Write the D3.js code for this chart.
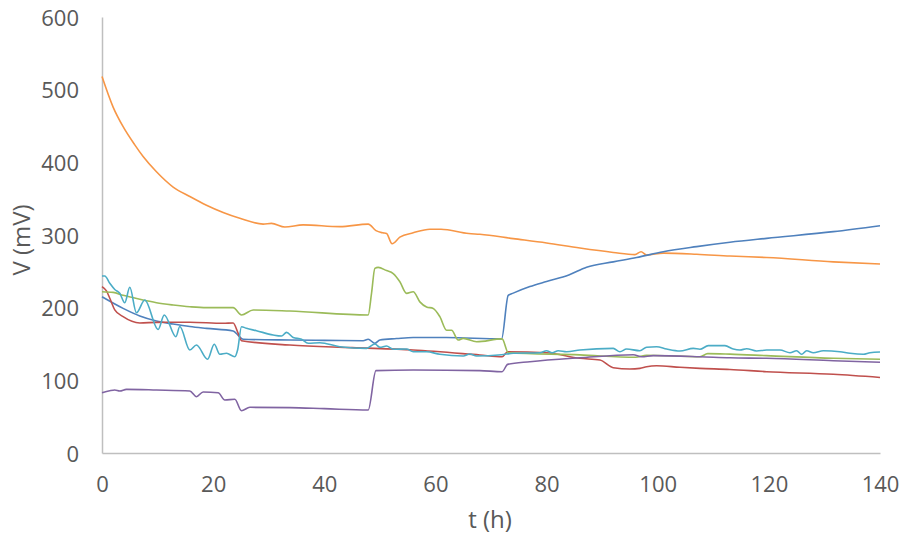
<!DOCTYPE html>
<html><head><meta charset="utf-8">
<script src="https://cdn.jsdelivr.net/npm/d3@7/dist/d3.min.js"></script>
<style>body{margin:0;background:#fff}svg{display:block}text{font-family:"Open Sans",sans-serif;fill:#595959}</style>
</head><body>
<svg id="c" width="900" height="537"></svg>
<script>
const xTicks = [0,20,40,60,80,100,120,140];
const yTicks = [0,100,200,300,400,500,600];
const xLabel = "t (h)";
const yLabel = "V (mV)";

const orange = [[0,518],[2,476],[3.8,449],[5.9,424],[7.4,408],[9.8,387],[12.8,366],[15.8,353],[18.8,341],[21.8,331],[24.8,323],[29,315],[30.5,316],[32.9,311],[36.2,314],[42.8,311.5],[47.9,315],[49.3,306],[50.5,303],[51.2,302],[52.2,288],[53.6,297],[56,303],[59,308],[61,308],[66,302],[68,301],[74,295],[80,289],[86,282],[92,276],[95.9,273],[97,277],[98,272.5],[101,275],[107,273.5],[113,271],[119.6,269],[131.6,263],[140,260]];
const blue = [[0,215],[3.8,199],[6.8,188.5],[9.8,181.6],[12.8,177.5],[15.8,174],[18.8,171.5],[23.6,168],[24.5,162],[25.4,156.5],[33.8,155.5],[40,155],[47,154.5],[47.9,156.5],[49.1,151],[50,155.5],[53,157.5],[56,159],[62,159],[71.9,157],[73.1,217],[74,220],[77,229],[80,236],[84,245],[87.2,255.6],[92,263],[96.2,269],[101,277],[107,284],[113,290],[119.6,295.4],[131.6,304.6],[140,312.8]];
const red = [[0,229],[0.8,223],[1.4,213],[2.3,197],[3.8,187.6],[6.8,179],[9.8,179.8],[15.8,180],[21.8,178.5],[23.6,179],[24.5,164.7],[25.1,154.5],[33.8,148.6],[45,145],[56,141.7],[68,134.9],[72,132.5],[73,139.4],[80,138],[86,130.3],[89.6,128],[92,117.4],[95,115.6],[96.8,116.5],[98,118.8],[99.8,120],[104,117.9],[107.6,116.5],[113,115],[119.6,111.9],[131.6,108.3],[140,104]];
const green = [[0,222],[2,221],[3.8,217],[6.8,211.5],[9.8,206.8],[12.8,203.7],[15.8,201.3],[18.8,200],[23.6,200],[25.1,190],[27.2,196.8],[33.8,195.4],[47.9,190],[48.5,219.7],[49.1,254],[49.7,255.5],[51.2,251],[52.4,247],[53.6,235.7],[54.8,219.7],[56,222],[57.2,208],[58.4,201],[59.6,199],[60.8,187.6],[62,169],[62.9,169],[64.1,155.5],[65,157.8],[67.4,153],[72,157],[73.1,138],[86,135],[96,131.7],[98,134.5],[107.6,132.5],[109,136.7],[113,136],[119.6,134],[131.6,130.3],[140,129]];
const purple = [[0,83],[1.4,85.7],[2.3,86.7],[3.2,85.3],[4.4,87.6],[9.8,86.7],[15.8,85.3],[17,77.5],[18.2,84],[20.9,83],[22.1,73],[23.9,73.9],[25.1,58.2],[26.6,62.9],[33.8,62.4],[40,61],[47.9,59.2],[49.3,113.3],[56,114.2],[68,113.3],[72,111.9],[73,122],[77,125.6],[86,131],[95.6,135.3],[97.1,132.5],[99.2,134],[107.6,132.5],[113,131],[119.6,130.3],[131.6,127],[140,124.8]];
const cyan = [[0,243.6],[0.5,243.6],[1.4,233.5],[2.3,225],[3.2,219.7],[4.1,206.8],[5,228],[6.2,193],[7.7,210.5],[10.1,170],[11.2,190],[13.3,160],[14,174],[15.8,141.7],[17,148.6],[19,129],[20.2,149.6],[21.2,135.8],[22.4,137.2],[23.9,132.5],[24.4,141.7],[25.1,173.8],[26,171.6],[27.8,168.3],[30.8,162.4],[32.3,161],[33.2,166],[34.4,159],[35.9,156.5],[37.1,151],[39.2,151.8],[42.8,146.3],[47.6,144],[49.1,150],[50,145.5],[51.2,147.2],[52.4,142.7],[54.8,143.1],[56,139.4],[58.4,139.4],[60.8,135.8],[65,133.5],[66.2,136.2],[67.4,133.5],[71.9,135.3],[74,137.2],[78.8,138],[80,140.8],[81,138],[82.1,140.8],[83.6,139.4],[86,141.7],[92,144],[93.2,139.4],[94.4,143.1],[96.8,140.8],[98,145.5],[99.8,146.3],[101.6,143.1],[104,140.4],[106.4,144],[107.6,142.7],[109.1,147.7],[112.1,147.7],[113.6,143],[114.8,141.7],[116,143.5],[117.8,140.4],[119.6,141.7],[122,141.7],[123.8,138],[125,140.8],[125.9,135.8],[126.8,140.8],[128,138],[129.8,140.8],[132.8,139.4],[134.6,137.2],[137,135.8],[138.2,138],[140,139]];

const series = [
  {name:"orange", color:"#F79646", data:orange},
  {name:"blue", color:"#4F81BD", data:blue},
  {name:"red", color:"#C0504D", data:red},
  {name:"green", color:"#9BBB59", data:green},
  {name:"purple", color:"#8064A2", data:purple},
  {name:"cyan", color:"#4BACC6", data:cyan}
];

const svg = d3.select("#c");
const L=102, R=880, T=17, B=453;
const x = d3.scaleLinear().domain([0,140]).range([L,R]);
const y = d3.scaleLinear().domain([0,600]).range([B,T]);

const xa = svg.append("g").attr("transform",`translate(0,${B})`)
  .call(d3.axisBottom(x).tickValues(xTicks).tickSize(0));
const ya = svg.append("g").attr("transform",`translate(${L},0)`)
  .call(d3.axisLeft(y).tickValues(yTicks).tickSize(0));
[xa,ya].forEach(a=>{
  a.select(".domain").attr("stroke","#bfbfbf").attr("stroke-width",1.5);
  a.selectAll("text").attr("font-size",22).attr("fill","#595959").attr("font-family","'Open Sans',sans-serif");
});
xa.selectAll("text").attr("dy",null).attr("y",39);
ya.selectAll("text").attr("dy",null).attr("y",8).attr("x",-23);

const line = d3.line().x(d=>x(d[0])).y(d=>y(d[1])).curve(d3.curveMonotoneX);
svg.append("g").selectAll("path").data(series).join("path")
  .attr("d",d=>line(d.data)).attr("fill","none")
  .attr("stroke",d=>d.color).attr("stroke-width",1.6).attr("stroke-linejoin","round");

svg.append("text").attr("x",490).attr("y",528).attr("text-anchor","middle")
  .attr("font-size",24).text(xLabel);
svg.append("text").attr("transform",`translate(30,240) rotate(-90)`).attr("text-anchor","middle")
  .attr("font-size",24).text(yLabel);
</script>
</body></html>
